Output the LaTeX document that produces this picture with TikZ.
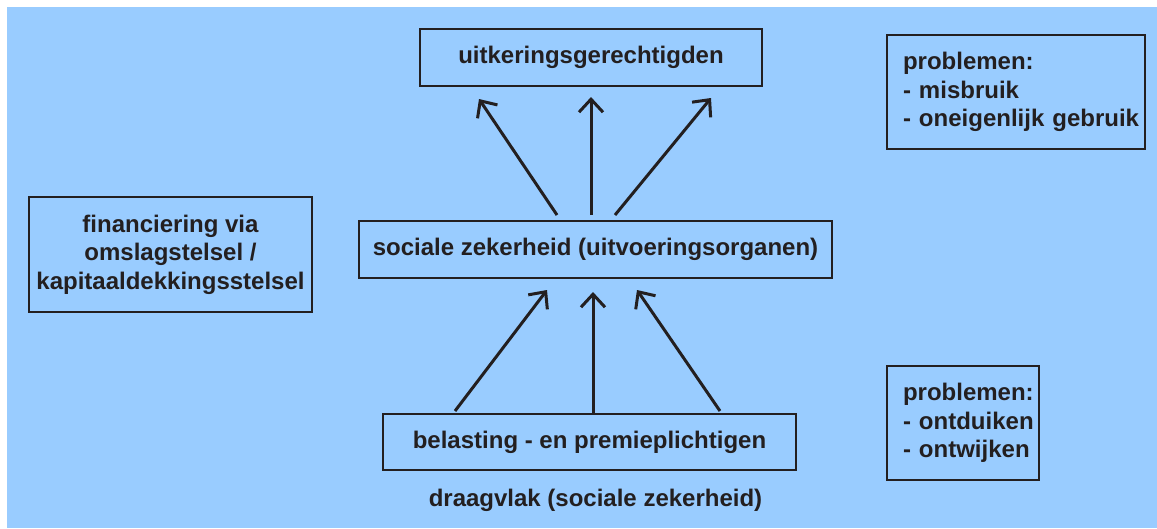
\documentclass[tikz,border=0pt]{standalone}
\usepackage{fontspec}
\setmainfont{Liberation Sans}
\usetikzlibrary{arrows.meta}
\definecolor{bgblue}{HTML}{99CCFF}
\definecolor{ink}{HTML}{231F20}
\begin{document}
\begin{tikzpicture}[x=1pt,y=-1pt,
  box/.style={draw=ink, line width=2.5pt, inner sep=0pt, text=ink,
    font=\fontsize{24}{28.5}\selectfont\bfseries},
  lbl/.style={text=ink, inner sep=0pt, font=\fontsize{24}{28.5}\selectfont\bfseries},
  arr/.style={draw=ink, line width=3pt, -{Straight Barb[length=13pt,width=24pt]}}]
\useasboundingbox (0,0) rectangle (1157,528);
\fill[bgblue] (7,7) rectangle (1157,528);
% boxes
\node[box, minimum width=342pt, minimum height=57pt] (top) at (591,57.5) {uitkeringsgerechtigden};
\node[box, minimum width=473pt, minimum height=57pt] (mid) at (595.5,249.5) {sociale zekerheid (uitvoeringsorganen)};
\node[box, minimum width=413pt, minimum height=56pt] (bot) at (589.5,442) {belasting - en premieplichtigen};
\node[lbl] (draag) at (595.5,500) {draagvlak (sociale zekerheid)};
\node[box, minimum width=283pt, minimum height=115pt, align=center] (fin) at (170.5,254.5)
  {financiering via\\omslagstelsel /\\\mbox{kapitaaldekkingsstelsel}};
\node[box, minimum width=258pt, minimum height=114pt, text width=226pt, inner xsep=16pt, align=left] (prob1) at (1016,92)
  {problemen:\\\mbox{- misbruik}\\\mbox{- oneigenlijk gebruik}};
\node[box, minimum width=152pt, minimum height=114pt, text width=120pt, inner xsep=16pt, align=left] (prob2) at (963,423)
  {problemen:\\\mbox{- ontduiken}\\\mbox{- ontwijken}};
% arrow end points
\coordinate (a1s) at (557,215);
\coordinate (a1e) at (479,99);
\coordinate (a2s) at (591,215);
\coordinate (a2e) at (591,97);
\coordinate (a3s) at (615,215);
\coordinate (a3e) at (711,98);
\coordinate (b1s) at (455,411);
\coordinate (b1e) at (547,290);
\coordinate (b2s) at (593,414);
\coordinate (b2e) at (593,292);
\coordinate (b3s) at (720,411);
\coordinate (b3e) at (637,290);
\draw[arr] (a1s) -- (a1e);
\draw[arr] (a2s) -- (a2e);
\draw[arr] (a3s) -- (a3e);
\draw[arr] (b1s) -- (b1e);
\draw[arr] (b2s) -- (b2e);
\draw[arr] (b3s) -- (b3e);
\end{tikzpicture}
\end{document}
